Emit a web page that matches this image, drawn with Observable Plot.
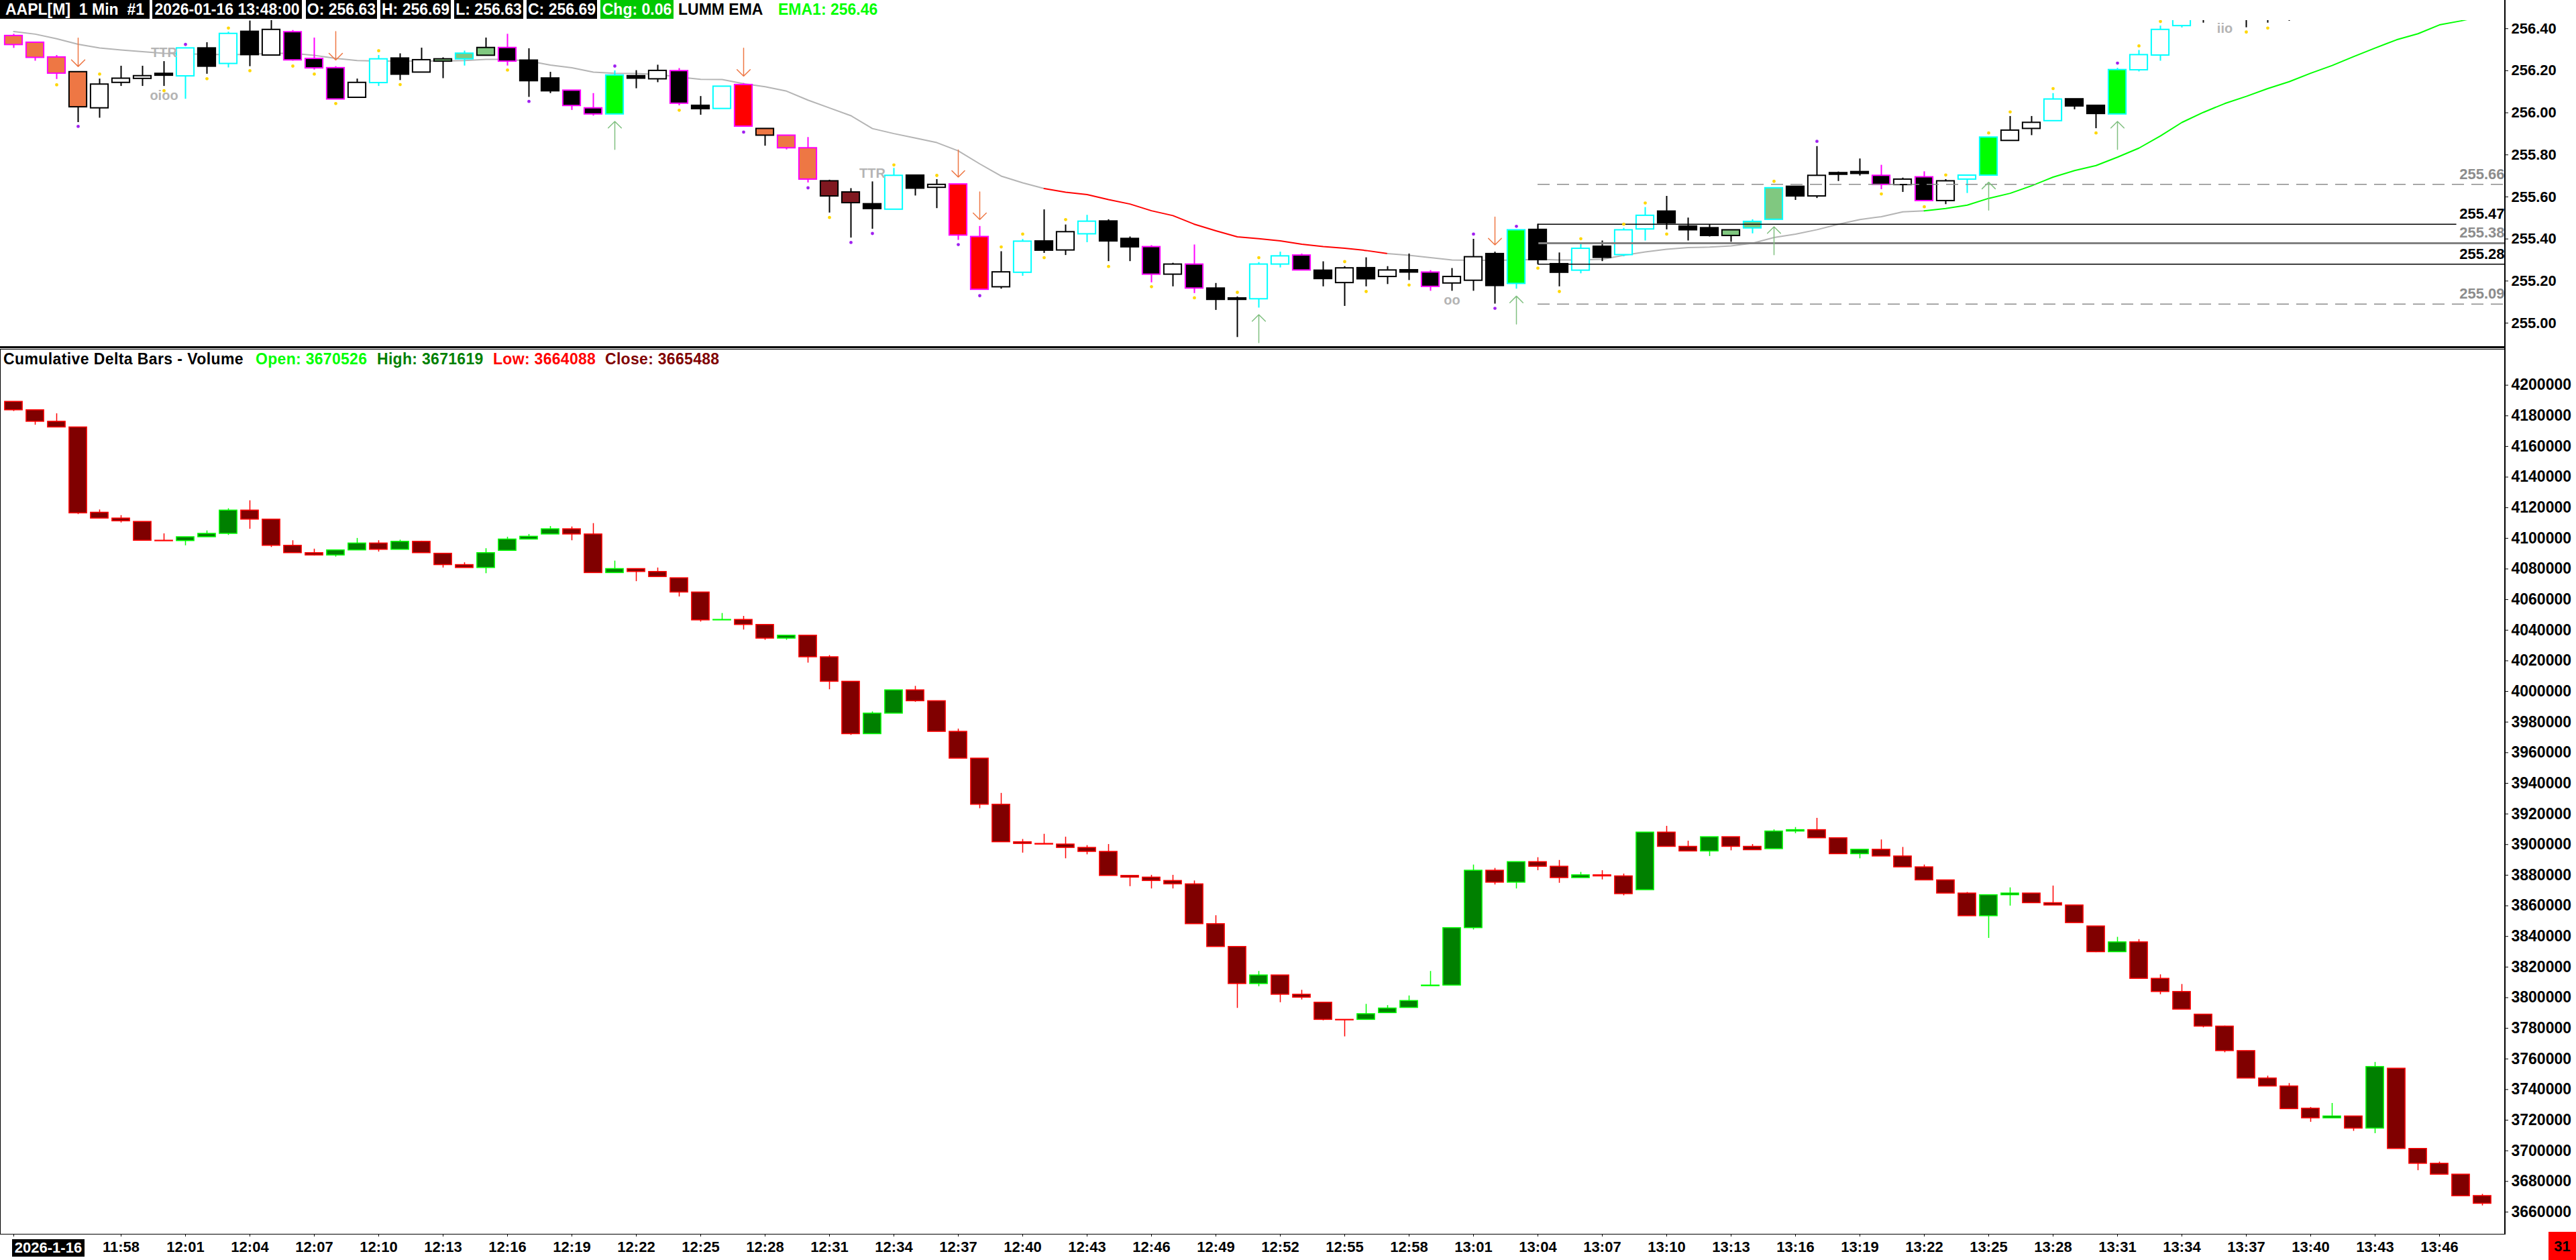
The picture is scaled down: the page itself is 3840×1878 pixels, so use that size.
<!DOCTYPE html>
<html>
<head>
<meta charset="utf-8">
<script src="https://cdn.jsdelivr.net/npm/d3@7"></script>
<script src="https://cdn.jsdelivr.net/npm/@observablehq/plot@0.6"></script>
<style>
html,body{margin:0;padding:0;background:#fff;}
#wrap{position:relative;width:3840px;height:1878px;overflow:hidden;background:#fff;font-family:'Liberation Sans',Arial,Helvetica,sans-serif;font-weight:bold;}
.abs{position:absolute;white-space:pre;}
#top,#bot{position:absolute;left:0;}
#top{top:0;} #bot{top:518px;}
</style>
</head>
<body>
<div id="wrap"><div id="top"></div><div id="bot"></div></div>
<script>
// ---------- DATA ----------
// bar index 0 = 11:53, one bar per minute, last bar (115) = 13:48
const timeTickLabels = ["11:58","12:01","12:04","12:07","12:10","12:13","12:16","12:19","12:22","12:25","12:28","12:31","12:34","12:37","12:40","12:43","12:46","12:49","12:52","12:55","12:58","13:01","13:04","13:07","13:10","13:13","13:16","13:19","13:22","13:25","13:28","13:31","13:34","13:37","13:40","13:43","13:46"];
const firstTickBar = 5; // 11:58
const dateLabel = "2026-1-16";

const topOpen = [256.366,256.334,256.264,256.194,256.022,256.143,256.162,256.186,256.174,256.307,
256.233,256.386,256.273,256.384,256.257,256.213,256.072,256.142,256.259,256.192,
256.244,256.255,256.272,256.309,256.249,256.164,256.106,256.022,255.993,256.175,
256.160,256.199,256.034,256.019,256.133,255.924,255.892,255.832,255.675,255.622,
255.566,255.540,255.702,255.644,255.660,255.410,255.171,255.240,255.389,255.346,
255.423,255.484,255.401,255.362,255.231,255.279,255.165,255.118,255.114,255.279,
255.322,255.250,255.191,255.262,255.220,255.252,255.241,255.189,255.202,255.329,
255.187,255.444,255.281,255.250,255.364,255.324,255.446,255.531,255.460,255.452,
255.415,255.451,255.492,255.649,255.603,255.714,255.719,255.701,255.657,255.694,
255.581,255.683,255.702,255.867,255.924,255.961,256.065,256.034,255.993,256.203,
256.273,256.413,256.550,256.480,256.560,256.550,256.530,256.500,256.580,256.600,
256.630,256.600,256.640,256.620,256.650,256.630];
const topHigh = [256.374,256.335,256.273,256.194,256.161,256.222,256.222,256.244,256.307,256.334,
256.384,256.437,256.440,256.392,256.356,256.220,256.161,256.273,256.281,256.308,
256.262,256.294,256.356,256.374,256.305,256.193,256.106,256.092,256.200,256.201,
256.227,256.211,256.078,256.125,256.140,255.924,255.892,255.883,255.680,255.640,
255.672,255.736,255.702,255.683,255.660,255.460,255.340,255.398,255.539,255.467,
255.513,255.492,255.410,255.369,255.285,255.372,255.189,255.125,255.288,255.338,
255.329,255.292,255.269,255.311,255.269,255.329,255.250,255.260,255.399,255.338,
255.442,255.470,255.334,255.380,255.391,255.451,255.550,255.603,255.500,255.467,
255.442,255.492,255.642,255.649,255.840,255.719,255.781,255.751,255.690,255.720,
255.683,255.702,255.883,255.983,255.983,256.092,256.065,256.034,256.212,256.297,
256.413,256.520,256.560,256.570,256.580,256.580,256.560,256.600,256.620,256.650,
256.660,256.650,256.680,256.670,256.660,256.690];
const topLow = [256.307,256.246,256.159,255.954,255.975,256.126,256.126,256.126,256.065,256.184,
256.214,256.220,256.273,256.246,256.204,256.064,256.072,256.126,256.154,256.192,
256.163,256.223,256.272,256.223,256.074,256.092,256.012,255.985,255.993,256.115,
256.144,256.034,255.989,256.019,255.935,255.842,255.824,255.667,255.524,255.405,
255.447,255.540,255.605,255.545,255.394,255.159,255.162,255.223,255.332,255.322,
255.383,255.293,255.293,255.192,255.173,255.141,255.061,254.932,255.072,255.263,
255.251,255.173,255.080,255.173,255.184,255.203,255.152,255.152,255.152,255.091,
255.162,255.279,255.173,255.235,255.293,255.316,255.391,255.444,255.391,255.410,
255.385,255.425,255.492,255.584,255.593,255.674,255.700,255.635,255.622,255.581,
255.564,255.617,255.702,255.867,255.892,255.961,256.015,255.925,255.993,256.195,
256.246,256.404,256.427,256.450,256.405,256.427,256.436,256.470,256.540,256.560,
256.580,256.570,256.600,256.590,256.610,256.630];
const topClose = [256.323,256.262,256.187,256.027,256.135,256.163,256.175,256.177,256.307,256.220,
256.376,256.275,256.395,256.250,256.212,256.064,256.143,256.255,256.182,256.251,
256.255,256.282,256.309,256.244,256.151,256.103,256.033,255.993,256.178,256.163,
256.200,256.044,256.018,256.125,255.935,255.892,255.832,255.683,255.603,255.571,
255.543,255.701,255.640,255.658,255.417,255.159,255.242,255.388,255.345,255.433,
255.483,255.389,255.361,255.231,255.279,255.165,255.111,255.111,255.279,255.318,
255.251,255.210,255.261,255.209,255.251,255.241,255.173,255.220,255.314,255.177,
255.442,255.300,255.240,255.354,255.311,255.442,255.511,255.475,255.442,255.415,
255.442,255.482,255.642,255.603,255.701,255.706,255.710,255.658,255.683,255.581,
255.675,255.702,255.883,255.916,255.953,256.064,256.031,255.995,256.204,256.275,
256.395,256.500,256.480,256.550,256.500,256.520,256.500,256.580,256.600,256.630,
256.600,256.640,256.620,256.650,256.630,256.690];
// paint-bar style of each candle
const topStyle = ["OM","OM","OM","OK","W","W","W","K","WC","K",
"WC","K","W","KM","KM","KM","W","WC","K","W",
"LK","LC","LK","KM","K","K","KM","KM","GC","K",
"W","KM","K","WC","RM","OK","OM","OM","DK","DK",
"K","WC","K","W","RM","RM","W","WC","K","W",
"WC","K","K","KM","W","KM","K","K","WC","WC",
"KM","K","W","K","W","K","KM","W","W","K",
"GC","K","K","WC","K","WC","WC","K","K","K",
"LK","LC","LC","K","W","K","K","KM","W","KM",
"W","WC","GC","W","W","WC","K","K","GC","WC",
"WC","WC","K","W","K","K","K","W","W","W",
"K","W","K","W","K","W"];

const emaValues = [256.386,256.374,256.352,256.326,256.308,256.299,256.291,256.283,256.280,256.278,
256.276,256.278,256.283,256.283,256.273,256.259,256.248,256.246,256.246,256.246,
256.246,256.248,256.254,256.254,256.246,256.227,256.214,256.193,256.188,256.187,
256.182,256.170,256.159,256.158,256.138,256.124,256.103,256.060,256.023,255.986,
255.925,255.901,255.880,255.858,255.819,255.757,255.699,255.667,255.640,255.622,
255.611,255.587,255.566,255.534,255.511,255.470,255.439,255.410,255.401,255.391,
255.375,255.364,255.356,255.345,255.330,255.322,255.311,255.300,255.298,255.298,
255.300,255.303,255.300,255.300,255.303,255.322,255.338,255.351,255.359,255.361,
255.367,255.380,255.407,255.423,255.444,255.470,255.492,255.506,255.529,255.534,
255.545,255.561,255.593,255.617,255.653,255.694,255.725,255.749,255.789,255.832,
255.890,255.954,256.002,256.044,256.078,256.115,256.148,256.188,256.225,256.267,
256.308,256.347,256.376,256.418,256.437,256.460];
const emaSegStart = [0, 48, 64, 89];
const emaSegEnd = [48, 64, 89, 115];
const emaSegColor = ["#B4B4B4", "#FF0000", "#B4B4B4", "#00FF00"];

const yellowBars = [2,4,7,9,10,11,13,14,15,17,18,23,31,38,41,43,46,47,48,49,51,53,55,57,58,62,63,65,71,72,73,75,76,77,82,87,89,90,92,93,95,97,99,100,104,105];
const yellowPrices = [256.133,256.184,256.105,256.162,256.403,256.200,256.222,256.184,256.044,256.295,256.134,256.203,256.012,255.502,255.752,255.702,255.362,255.423,255.311,255.492,255.269,255.173,255.120,255.146,255.311,255.292,255.150,255.181,255.261,255.150,255.401,255.470,255.571,255.423,255.674,255.614,255.553,255.704,255.904,256.004,256.115,255.904,256.318,256.434,256.384,256.403];
const purpleBars = [3,8,24,28,34,37,39,40,44,45,68,69,70,84,98];
const purplePrices = [255.935,256.325,256.054,256.222,255.908,255.643,255.383,255.426,255.373,255.130,255.423,255.070,255.460,255.864,256.236];

const downArrowBars = [3,15,34,44,45,69];
const downArrowTail = [256.355,256.386,256.307,255.823,255.624,255.504];
const downArrowTip = [256.220,256.251,256.174,255.694,255.492,255.372];
const upArrowBars = [28,58,70,82,92,98];
const upArrowTail = [255.826,254.907,254.995,255.325,255.537,255.826];
const upArrowTip = [255.959,255.040,255.128,255.458,255.670,255.959];

const tagBars = [7,7,40,67,103];
const tagPrices = [256.284,256.080,255.711,255.108,256.402];
const tagTexts = ["TTR","oioo","TTR","oo","iio"];

const levelPrices = [255.66, 255.47, 255.38, 255.28, 255.09];
const levelStartBar = 71;
const levelEndBar = [116.06, 113.8, 116.06, 116.06, 116.06];

const priceTicks = [255.0, 255.2, 255.4, 255.6, 255.8, 256.0, 256.2, 256.4];

const cdOpen = [4189200,4183700,4176200,4172500,4116800,4113000,4110800,4098500,4098300,4100800,
4103000,4118200,4112300,4095200,4090400,4088900,4092200,4096700,4092600,4097800,
4090000,4082600,4080700,4091900,4099300,4102600,4106000,4102600,4077400,4080000,
4078100,4074000,4064700,4046500,4046800,4043500,4034600,4036500,4022400,4006400,
3972200,3985600,4000800,3993700,3973700,3956200,3926100,3901600,3900500,3900100,
3897900,3895300,3879600,3878500,3876300,3874100,3848100,3833200,3809000,3814600,
3802000,3796800,3785600,3785600,3790000,3793400,3807600,3808000,3845500,3883000,
3875200,3888600,3885600,3878200,3880000,3879300,3870300,3907900,3898600,3895600,
3904900,3898600,3897100,3908600,3909500,3904200,3893800,3896700,3892300,3885200,
3876700,3868100,3853300,3867000,3868100,3861800,3860300,3846600,3829800,3836200,
3812400,3803800,3789000,3781200,3765200,3747300,3742100,3727600,3721300,3722500,
3714600,3753700,3701300,3691600,3684500,3670526];
const cdHigh = [4189200,4183700,4181400,4172500,4118600,4114900,4110800,4103000,4100800,4104900,
4119400,4124600,4112300,4098500,4093000,4092200,4100000,4098500,4098900,4098200,
4090000,4084100,4093300,4100800,4102600,4107800,4107500,4109700,4085200,4080000,
4080700,4074000,4064700,4051000,4049100,4043500,4036500,4036500,4023500,4006400,
3986700,4000800,4003400,3993700,3975500,3956200,3933500,3903400,3906800,3904900,
3899400,3900100,3879600,3880000,3880000,3876300,3853600,3833200,3817200,3814600,
3804900,3796800,3785600,3795700,3794900,3801200,3817200,3845500,3886700,3884500,
3888600,3891500,3889700,3881900,3883000,3880800,3907900,3912000,3902300,3904900,
3904900,3900100,3909700,3911200,3917200,3904200,3896700,3903100,3898200,3886700,
3876700,3868800,3867000,3871800,3868100,3873000,3860300,3846600,3839500,3838000,
3815000,3808700,3789000,3781500,3765200,3748800,3744000,3728400,3731000,3722500,
3757800,3753700,3701300,3692700,3684500,3671619];
const cdLow = [4182900,4174000,4172500,4115600,4113000,4110100,4098500,4098200,4095200,4100800,
4102000,4106000,4094100,4090400,4088500,4087800,4092200,4091100,4092600,4090400,
4080700,4080700,4077000,4091900,4099300,4102600,4098500,4077400,4077400,4071800,
4074800,4061800,4045400,4046500,4040200,4033500,4033500,4018600,4001200,3971400,
3972200,3985600,3993000,3973700,3956200,3923500,3901600,3894500,3900100,3890800,
3893400,3879600,3872600,3871100,3871100,3848100,3833200,3793100,3807200,3796800,
3798600,3785000,3774500,3785300,3790000,3793400,3807600,3808000,3844300,3873700,
3871100,3883000,3874800,3878200,3877000,3866600,3870300,3898600,3895600,3892300,
3896000,3896400,3897100,3907200,3904200,3893800,3890800,3892300,3885200,3876700,
3868100,3853300,3838800,3859900,3861800,3860300,3848800,3829500,3829800,3812400,
3802000,3792300,3780400,3764100,3747300,3742100,3727300,3718700,3721300,3712800,
3711300,3701300,3687100,3684500,3670400,3664088];
const cdClose = [4183700,4176200,4172500,4116400,4113000,4111200,4098500,4098200,4100800,4103000,
4118200,4112300,4095200,4090400,4088900,4092200,4096700,4092600,4097800,4090400,
4082600,4080700,4090400,4099300,4101100,4106000,4102600,4077400,4080000,4078100,
4074800,4064700,4046500,4046800,4043500,4034600,4036500,4022400,4006400,3972200,
3985600,4000800,3993700,3973700,3956200,3926100,3901600,3900500,3900100,3897900,
3895300,3879600,3878500,3876300,3874100,3848100,3833200,3809000,3814600,3802000,
3800100,3785600,3785300,3789300,3793000,3797900,3808000,3845500,3883000,3875200,
3888600,3885600,3878200,3880000,3879300,3867700,3907900,3898600,3895600,3904900,
3898600,3896400,3908600,3909500,3904200,3893800,3896700,3892300,3885200,3876700,
3868100,3853300,3867000,3868100,3861800,3860300,3848800,3829800,3836200,3812400,
3803800,3792300,3781200,3765200,3747300,3742100,3727300,3721300,3722500,3714600,
3754800,3701300,3691600,3684500,3670400,3665488];

const headerBoxes = ["AAPL[M]  1 Min  #1","2026-01-16 13:48:00","O: 256.63","H: 256.69","L: 256.63","C: 256.69","Chg: 0.06"];
const indicatorName = "LUMM EMA";
const indicatorValue = "EMA1: 256.46";
const subTitle = "Cumulative Delta Bars - Volume";
const subStats = ["Open: 3670526","High: 3671619","Low: 3664088","Close: 3665488"];
const timerText = "31";

// ---------- STYLES / LAYOUT ----------
const FONT = "'Liberation Sans', Arial, Helvetica, sans-serif";
const STY = {
  OM:{fill:"#EE7744",stroke:"#FF00FF"}, OK:{fill:"#EE7744",stroke:"#000000"},
  W:{fill:"#FFFFFF",stroke:"#000000"},  K:{fill:"#000000",stroke:"#000000"},
  WC:{fill:"#FFFFFF",stroke:"#00FFFF"}, KM:{fill:"#000000",stroke:"#FF00FF"},
  LK:{fill:"#80C880",stroke:"#000000"}, LC:{fill:"#80C880",stroke:"#00FFFF"},
  GC:{fill:"#00FF00",stroke:"#00FFFF"}, RM:{fill:"#FF0000",stroke:"#FF00FF"},
  DK:{fill:"#801820",stroke:"#000000"}
};
const levelStroke = ["#8C8C8C","#000000","#808080","#000000","#8C8C8C"];
const levelWidth = [1.5,1.5,3,1.5,1.5];
const levelDash = ["18,11",null,null,null,"18,11"];
const levelLabelColor = ["#8C8C8C","#000000","#8C8C8C","#000000","#8C8C8C"];

const XDOM = [-0.625, 116.0625];
const HW = 0.41;

const topRows = topOpen.map((o,i)=>({i, o, h:topHigh[i], l:topLow[i], c:topClose[i], s:topStyle[i]}));
const emaRows = emaValues.map((v,i)=>({i, v}));
const yellowRows = yellowBars.map((b,k)=>({i:b, p:yellowPrices[k]}));
const purpleRows = purpleBars.map((b,k)=>({i:b, p:purplePrices[k]}));
const downRows = downArrowBars.map((b,k)=>({i:b, tail:downArrowTail[k], tip:downArrowTip[k]}));
const upRows = upArrowBars.map((b,k)=>({i:b, tail:upArrowTail[k], tip:upArrowTip[k]}));
const tagRows = tagBars.map((b,k)=>({i:b, p:tagPrices[k], t:tagTexts[k]}));
const levelRows = levelPrices.map((p,k)=>({p, end:levelEndBar[k], k}));

const topMarks = [];
emaSegStart.forEach((a,k)=>{
  topMarks.push(Plot.line(emaRows.slice(a, emaSegEnd[k]+1), {x:"i", y:"v", stroke:emaSegColor[k], strokeWidth:2, clip:true}));
});
topMarks.push(
  Plot.ruleX(topRows, {x:"i", y1:"l", y2:"h", stroke:d=>STY[d.s].stroke, strokeWidth:2, clip:true}),
  Plot.rect(topRows, {x1:d=>d.i-HW, x2:d=>d.i+HW, y1:d=>Math.min(d.o,d.c), y2:d=>Math.max(d.o,d.c),
    fill:d=>STY[d.s].fill, stroke:d=>STY[d.s].stroke, strokeWidth:2, clip:true})
);
levelRows.forEach(d=>{
  topMarks.push(Plot.ruleY([d], {y:"p", x1:levelStartBar, x2:"end", stroke:levelStroke[d.k], strokeWidth:levelWidth[d.k], strokeDasharray:levelDash[d.k] || undefined, clip:true}));
});
topMarks.push(
  Plot.ruleX([levelStartBar], {x:d=>d, y1:levelPrices[3], y2:levelPrices[1], stroke:"#000", strokeWidth:1.5}),
  Plot.text(levelRows, {y:"p", text:d=>d.p.toFixed(2), frameAnchor:"right", textAnchor:"end", dx:-1, dy:-15, fill:d=>levelLabelColor[d.k], fontSize:22, fontWeight:"bold"}),
  Plot.dot(yellowRows, {x:"i", y:"p", r:2.4, fill:"#FFD700", stroke:null, clip:true}),
  Plot.dot(purpleRows, {x:"i", y:"p", r:2.4, fill:"#A020F0", stroke:null, clip:true}),
  Plot.arrow(downRows, {x1:"i", x2:"i", y1:"tail", y2:"tip", stroke:"#EE7744", strokeWidth:1.5, headAngle:90, headLength:16, clip:true}),
  Plot.arrow(upRows, {x1:"i", x2:"i", y1:"tail", y2:"tip", stroke:"#80C080", strokeWidth:1.5, headAngle:90, headLength:16, clip:true}),
  Plot.text(tagRows, {x:"i", y:"p", text:"t", fill:"#B4B4B4", fontSize:20, fontWeight:"bold", clip:true}),
  Plot.axisY({anchor:"right", ticks:priceTicks, tickFormat:d=>d.toFixed(2), tickSize:4, tickPadding:5, fontSize:22, fontWeight:"bold", label:null})
);

const topPlot = Plot.plot({
  width:3840, height:518, marginTop:30, marginBottom:0, marginLeft:0, marginRight:106,
  x:{domain:XDOM, axis:null},
  y:{domain:[254.882, 256.439]},
  color:{type:"identity"},
  style:{fontFamily:FONT, fontWeight:"bold", color:"#000", background:"transparent", overflow:"visible"},
  marks: topMarks
});
document.getElementById("top").appendChild(topPlot);

// ---------- BOTTOM PANEL ----------
const cdRows = cdOpen.map((o,i)=>({i, o, h:cdHigh[i], l:cdLow[i], c:cdClose[i]}));
const isUp = d => d.c >= d.o;
const tickBars = [0].concat(timeTickLabels.map((_,k)=>firstTickBar + 3*k));
const tickLabelMap = new Map(timeTickLabels.map((t,k)=>[firstTickBar + 3*k, t]));
const cdTicks = d3.range(3660000, 4200001, 20000);

const botPlot = Plot.plot({
  width:3840, height:1360, marginTop:2, marginBottom:39, marginLeft:0, marginRight:106,
  x:{domain:XDOM},
  y:{domain:[3645540, 4223491]},
  color:{type:"identity"},
  style:{fontFamily:FONT, fontWeight:"bold", color:"#000", background:"transparent", overflow:"visible"},
  marks:[
    Plot.frame({stroke:"#000", strokeWidth:1}),
    Plot.ruleX(cdRows, {x:"i", y1:"l", y2:"h", stroke:d=>isUp(d)?"#00FF00":"#FF0000", strokeWidth:1.5}),
    Plot.rect(cdRows, {x1:d=>d.i-HW, x2:d=>d.i+HW, y1:d=>Math.min(d.o,d.c), y2:d=>Math.max(d.o,d.c),
      fill:d=>isUp(d)?"#008000":"#800000", stroke:d=>isUp(d)?"#00FF00":"#FF0000", strokeWidth:1.5}),
    Plot.axisY({anchor:"right", ticks:cdTicks, tickFormat:d=>String(d), tickSize:4, tickPadding:5, fontSize:23, fontWeight:"bold", label:null}),
    Plot.axisX({anchor:"bottom", ticks:tickBars, tickFormat:d=>tickLabelMap.get(d) || "", tickSize:4, tickPadding:7, fontSize:22, fontWeight:"bold", label:null})
  ]
});
document.getElementById("bot").appendChild(botPlot);

// ---------- HTML OVERLAYS ----------
const wrap = document.getElementById("wrap");
function addDiv(css, text){ const d=document.createElement("div"); d.className="abs"; d.style.cssText=css; d.textContent=text; wrap.appendChild(d); return d; }
const hdrLeft = [0,227,456,567,677,785,895];
const hdrWidth = [223,223,106,105,103,105,109];
headerBoxes.forEach((t,k)=>{
  addDiv(`left:${hdrLeft[k]}px;top:0;width:${hdrWidth[k]}px;height:28px;line-height:29px;font-size:23px;text-align:center;color:#fff;background:${k===6?"#00C800":"#000"};`, t);
});
addDiv("left:1011px;top:0;height:28px;line-height:29px;font-size:23px;color:#000;", indicatorName);
addDiv("left:1160px;top:0;height:28px;line-height:29px;font-size:23px;color:#00FF00;", indicatorValue);

addDiv("left:5px;top:522px;line-height:26px;font-size:23px;color:#000;letter-spacing:0.4px;", subTitle);
const subLeft = [381,562,735,902];
const subColor = ["#00FF00","#008000","#FF0000","#800000"];
subStats.forEach((t,k)=> addDiv(`left:${subLeft[k]}px;top:522px;line-height:26px;font-size:23px;color:${subColor[k]};letter-spacing:0.3px;`, t));

// frame lines
addDiv("left:3733px;top:0;width:2px;height:1840px;background:#000;", "");
addDiv("left:0;top:516px;width:3735px;height:3px;background:#000;", "");
// date label and timer
addDiv("left:18px;top:1847px;width:108px;height:26px;line-height:26px;font-size:22px;text-align:center;color:#fff;background:#000;", dateLabel);
addDiv("left:3799px;top:1836px;width:41px;height:42px;line-height:44px;font-size:22px;text-align:center;color:#000;background:#FF0000;", timerText);
</script>
</body>
</html>
